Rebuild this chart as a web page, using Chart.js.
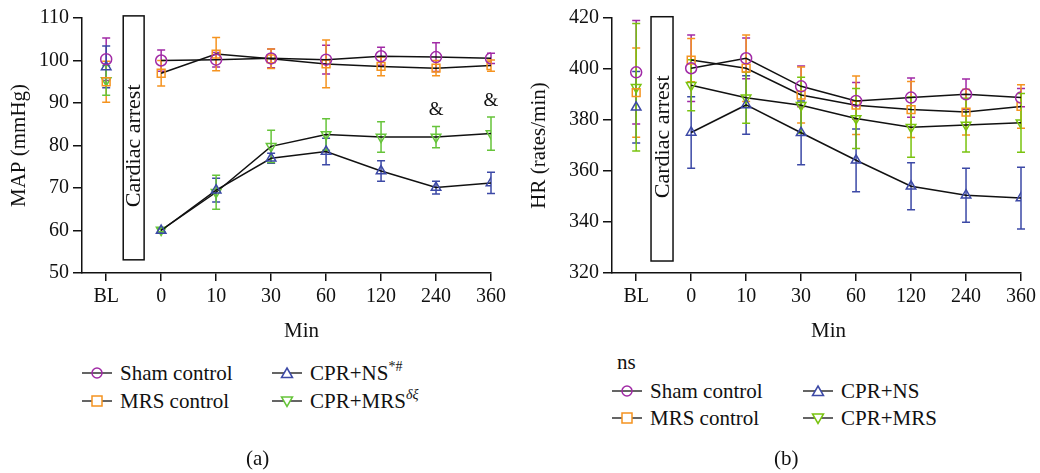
<!DOCTYPE html>
<html lang="en">
<head>
<meta charset="utf-8">
<title>MAP and HR after CPR</title>
<script src="https://cdn.jsdelivr.net/npm/chart.js@4.4.1/dist/chart.umd.min.js"></script>
<style>
  body { margin: 0; background: #fff; font-family: "Liberation Serif", serif; color: #111; }
  #wrap { position: relative; width: 1040px; height: 473px; }
  .box { position: absolute; top: 0; width: 520px; height: 345px; }
  .lbl { position: absolute; font-size: 21px; line-height: 20px; white-space: nowrap; }
  .lbl sup { font-size: 14px; line-height: 0; position: relative; top: -1px; }
  .lbl svg { vertical-align: middle; margin-right: 8px; position: relative; top: -2px; }
</style>
</head>
<body>
<div id="wrap">
  <div class="box" style="left:0"><canvas id="mapChart" width="520" height="345"></canvas></div>
  <div class="box" style="left:520px"><canvas id="hrChart" width="520" height="345"></canvas></div>
  <div id="legends"></div>
</div>
<script>
// x categories (time points)
const timeLabels = ["BL", "0", "10", "30", "60", "120", "240", "360"];

// MAP (mmHg), mean and SD
const mapSham = [100.3, 100.0, 100.2, 100.5, 100.2, 101.0, 100.8, 100.5];
const mapShamSd = [5.0, 2.5, 1.7, 2.2, 3.4, 2.1, 3.4, 1.2];
const mapMrs = [95.0, 97.0, 101.5, 100.4, 99.2, 98.6, 98.2, 98.8];
const mapMrsSd = [4.8, 3.0, 3.9, 2.3, 5.6, 2.2, 1.8, 1.3];
const mapNs = [98.5, 60.0, 69.5, 77.0, 78.6, 74.0, 70.1, 71.2];
const mapNsSd = [4.9, 0.4, 2.8, 1.2, 3.1, 2.4, 1.5, 2.5];
const mapCprMrs = [95.3, 60.1, 69.0, 79.8, 82.6, 82.0, 82.0, 82.8];
const mapCprMrsSd = [3.5, 0.4, 4.0, 3.8, 3.7, 3.6, 2.5, 3.9];
const mapMarks = [[6, "&"], [7, "&"]];

// HR (rates/min), mean and SD
const hrSham = [398.7, 400.3, 404.2, 393.2, 387.5, 388.8, 390.1, 388.8];
const hrShamSd = [20.3, 13.0, 8.0, 8.0, 7.2, 7.7, 6.0, 3.6];
const hrMrs = [390.7, 403.5, 400.3, 389.8, 385.8, 384.1, 383.1, 385.3];
const hrMrsSd = [17.5, 8.5, 13.0, 11.0, 11.5, 11.0, 9.0, 8.5];
const hrNs = [385.0, 375.1, 385.9, 375.0, 364.2, 354.0, 350.5, 349.4];
const hrNsSd = [14.0, 14.0, 11.5, 12.5, 12.3, 9.2, 10.6, 12.1];
const hrCprMrs = [392.8, 393.6, 388.7, 385.8, 380.6, 377.2, 378.0, 378.9];
const hrCprMrsSd = [25.0, 10.0, 10.0, 11.0, 11.8, 11.8, 10.5, 11.5];

const PURPLE = "#a12aa6", ORANGE = "#f5931f", BLUE = "#3c49a6", GREEN = "#66c43a";
const FONT = "Liberation Serif";

function series(label, means, sds, color, style, rot) {
  return {
    label: label,
    data: means.map((v, i) => ({ x: i, y: v })),
    sd: sds,
    errColor: color,
    borderColor: "#111",
    borderWidth: 1.5,
    pointStyle: style,
    pointRotation: rot || 0,
    pointRadius: 5.5,
    pointHoverRadius: 5.5,
    pointBorderWidth: 1.5,
    pointBorderColor: color,
    pointBackgroundColor: "rgba(0,0,0,0)",
    tension: 0,
    // baseline point is not joined to the rest
    segment: { borderColor: ctx => ctx.p0DataIndex === 0 ? "rgba(0,0,0,0)" : "#111" }
  };
}

// SD whiskers drawn under the lines
const errorBars = {
  id: "errorBars",
  beforeDatasetsDraw(chart) {
    const ctx = chart.ctx, xs = chart.scales.x, ys = chart.scales.y;
    chart.data.datasets.forEach(ds => {
      ctx.save();
      ctx.strokeStyle = ds.errColor;
      ctx.lineWidth = 1.5;
      ds.data.forEach((p, i) => {
        const x = xs.getPixelForValue(p.x);
        const top = ys.getPixelForValue(p.y + ds.sd[i]);
        const bot = ys.getPixelForValue(p.y - ds.sd[i]);
        ctx.beginPath();
        ctx.moveTo(x, top); ctx.lineTo(x, bot);
        ctx.moveTo(x - 4, top); ctx.lineTo(x + 4, top);
        ctx.moveTo(x - 4, bot); ctx.lineTo(x + 4, bot);
        ctx.stroke();
      });
      ctx.restore();
    });
  }
};

// "Cardiac arrest" box and significance marks
const arrestBox = {
  id: "arrestBox",
  afterDraw(chart, args, opts) {
    const ctx = chart.ctx, xs = chart.scales.x, ys = chart.scales.y;
    const x0 = xs.getPixelForValue(opts.x0), x1 = xs.getPixelForValue(opts.x1);
    const y0 = ys.getPixelForValue(opts.yTop), y1 = ys.getPixelForValue(opts.yBottom);
    ctx.save();
    ctx.fillStyle = "#fff";
    ctx.fillRect(x0, y0, x1 - x0, y1 - y0);
    ctx.strokeStyle = "#111";
    ctx.lineWidth = 1.5;
    ctx.strokeRect(x0, y0, x1 - x0, y1 - y0);
    ctx.translate((x0 + x1) / 2, (y0 + y1) / 2 + opts.shift);
    ctx.rotate(-Math.PI / 2);
    ctx.fillStyle = "#111";
    ctx.font = "22px '" + FONT + "'";
    ctx.textAlign = "center";
    ctx.textBaseline = "middle";
    ctx.fillText("Cardiac arrest", 0, 1);
    ctx.restore();
    (opts.marks || []).forEach(m => {
      const ds = chart.data.datasets[3];
      const v = ds.data[m[0]].y + ds.sd[m[0]];
      ctx.save();
      ctx.fillStyle = "#111";
      ctx.font = "19px '" + FONT + "'";
      ctx.textAlign = "center";
      ctx.textBaseline = "bottom";
      ctx.fillText(m[1], xs.getPixelForValue(m[0]), ys.getPixelForValue(v) - 7);
      ctx.restore();
    });
  }
};

function makeChart(id, sets, yMin, yMax, yStep, yTitle, yWidth, padRight, box) {
  return new Chart(document.getElementById(id), {
    type: "line",
    data: { datasets: sets },
    plugins: [errorBars, arrestBox],
    options: {
      responsive: false,
      animation: false,
      layout: { padding: { top: 18, right: padRight, left: 0, bottom: 0 } },
      plugins: { legend: { display: false }, tooltip: { enabled: false }, arrestBox: box },
      scales: {
        x: {
          type: "linear",
          min: -0.44,
          max: 7,
          afterBuildTicks: s => { s.ticks = timeLabels.map((_, i) => ({ value: i })); },
          afterFit: s => { s.height = 72; },
          ticks: {
            callback: v => timeLabels[v],
            color: "#111",
            padding: 4,
            maxRotation: 0,
            font: { family: FONT, size: 20 }
          },
          grid: { drawOnChartArea: false, drawTicks: true, tickLength: 8, color: "#111", lineWidth: 1.5 },
          border: { display: true, color: "#111", width: 1.5 }
        },
        y: {
          min: yMin,
          max: yMax,
          afterFit: s => { s.width = yWidth; },
          ticks: { stepSize: yStep, color: "#111", padding: 4, font: { family: FONT, size: 20 } },
          grid: { drawOnChartArea: false, drawTicks: true, tickLength: 9, color: "#111", lineWidth: 1.5 },
          border: { display: true, color: "#111", width: 1.5 },
          title: { display: true, text: yTitle, color: "#111", padding: { top: 7, bottom: 2 }, font: { family: FONT, size: 21 } }
        }
      }
    }
  });
}

makeChart("mapChart", [
  series("Sham control", mapSham, mapShamSd, PURPLE, "circle"),
  series("MRS control", mapMrs, mapMrsSd, ORANGE, "rect"),
  series("CPR+NS", mapNs, mapNsSd, BLUE, "triangle"),
  series("CPR+MRS", mapCprMrs, mapCprMrsSd, GREEN, "triangle", 180)
], 50, 110, 10, "MAP (mmHg)", 82, 29,
  { x0: 0.31, x1: 0.69, yTop: 110.5, yBottom: 53.1, shift: 8, marks: mapMarks });

makeChart("hrChart", [
  series("Sham control", hrSham, hrShamSd, PURPLE, "circle"),
  series("MRS control", hrMrs, hrMrsSd, ORANGE, "rect"),
  series("CPR+NS", hrNs, hrNsSd, BLUE, "triangle"),
  series("CPR+MRS", hrCprMrs, hrCprMrsSd, "#79c30f", "triangle", 180)
], 320, 420, 20, "HR (rates/min)", 92, 18,
  { x0: 0.27, x1: 0.67, yTop: 420.5, yBottom: 324.7, shift: -2, marks: [] });

// legends and captions as plain text
function icon(color, shape) {
  let m = "";
  if (shape === "circle") m = '<circle cx="15" cy="8" r="5" fill="none" stroke="' + color + '" stroke-width="1.5"/>';
  if (shape === "rect") m = '<rect x="10" y="3" width="10" height="10" fill="#fff" stroke="' + color + '" stroke-width="1.5"/>';
  if (shape === "up") m = '<polygon points="15,3 20.5,12.5 9.5,12.5" fill="#fff" stroke="' + color + '" stroke-width="1.5"/>';
  if (shape === "down") m = '<polygon points="9.5,4 20.5,4 15,13.5" fill="#fff" stroke="' + color + '" stroke-width="1.5"/>';
  return '<svg width="30" height="16"><line x1="0" y1="8" x2="30" y2="8" stroke="#111" stroke-width="1.3"/>' + m + '</svg>';
}
const legendItems = [
  [82, 363, icon(PURPLE, "circle") + "Sham control"],
  [82, 391, icon(ORANGE, "rect") + "MRS control"],
  [272, 363, icon(BLUE, "up") + "CPR+NS<sup>*#</sup>"],
  [272, 391, icon(GREEN, "down") + "CPR+MRS<sup><i>δξ</i></sup>"],
  [617, 352, "ns"],
  [612, 381, icon(PURPLE, "circle") + "Sham control"],
  [612, 408, icon(ORANGE, "rect") + "MRS control"],
  [803, 381, icon(BLUE, "up") + "CPR+NS"],
  [803, 408, icon("#79c30f", "down") + "CPR+MRS"],
  [284, 320, "Min"],
  [811, 320, "Min"],
  [246, 448, "(a)"],
  [774, 448, "(b)"]
];
document.getElementById("legends").innerHTML = legendItems
  .map(it => '<div class="lbl" style="left:' + it[0] + 'px;top:' + it[1] + 'px">' + it[2] + '</div>')
  .join("");
</script>
</body>
</html>
